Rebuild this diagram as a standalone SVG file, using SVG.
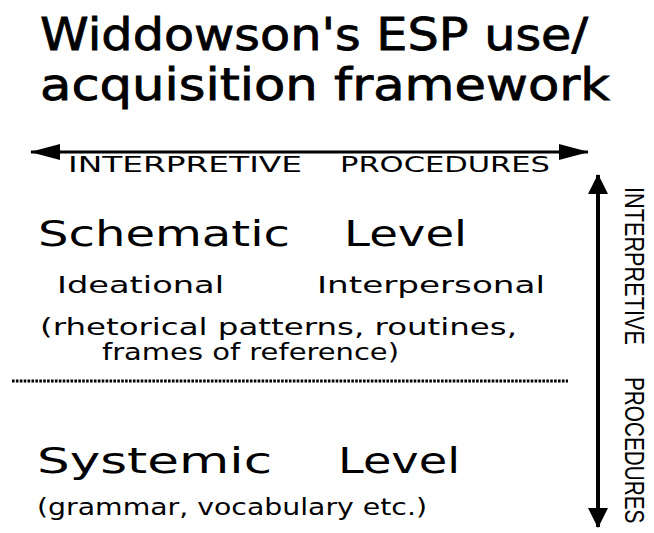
<svg xmlns="http://www.w3.org/2000/svg" width="654" height="533" viewBox="0 0 654 533">
  <defs>
    <style>
      text { font-family: "DejaVu Sans", "Liberation Sans", sans-serif; fill: #000; }
      .title { font-size: 44px; stroke: #000; stroke-width: 0.8; }
      .level { font-size: 36px; }
      .sub { font-size: 23px; }
      .proc { font-size: 21px; }
      .vproc { font-family: "Liberation Sans", "DejaVu Sans", sans-serif; font-size: 27px; }
      .axis-h { stroke: #000; stroke-width: 3; fill: none; }
      .axis-v { stroke: #000; stroke-width: 4; fill: none; }
      .divider { stroke: #000; stroke-width: 3; stroke-dasharray: 2.6 1.3; fill: none; }
    </style>
    <!-- long, narrow heads for the horizontal axis -->
    <marker id="head-h" viewBox="0 0 30 16" refX="29" refY="8" markerWidth="30" markerHeight="16" markerUnits="userSpaceOnUse" orient="auto-start-reverse">
      <path d="M0,0 L30,8 L0,16 Z" fill="#000"/>
    </marker>
    <!-- broader heads for the vertical axis -->
    <marker id="head-v" viewBox="0 0 20 20" refX="19" refY="10" markerWidth="20" markerHeight="20" markerUnits="userSpaceOnUse" orient="auto-start-reverse">
      <path d="M0,0 L20,10 L0,20 Z" fill="#000"/>
    </marker>
  </defs>

  <rect width="654" height="533" fill="#fff"/>

  <g id="title">
    <text class="title" x="40" y="50" textLength="548" lengthAdjust="spacingAndGlyphs">Widdowson's ESP use/</text>
    <text class="title" x="40" y="100" textLength="570" lengthAdjust="spacingAndGlyphs">acquisition framework</text>
  </g>

  <g id="connectors">
    <line class="axis-h" x1="31" y1="152" x2="588" y2="152" marker-start="url(#head-h)" marker-end="url(#head-h)"/>
    <line class="axis-v" x1="598" y1="175" x2="598" y2="527" marker-start="url(#head-v)" marker-end="url(#head-v)"/>
    <line class="divider" x1="12" y1="381" x2="568" y2="381"/>
  </g>

  <g id="horizontal-label">
    <text class="proc" x="68" y="172" textLength="234" lengthAdjust="spacingAndGlyphs">INTERPRETIVE</text>
    <text class="proc" x="340" y="172" textLength="210" lengthAdjust="spacingAndGlyphs">PROCEDURES</text>
  </g>

  <!-- condensed vertical caption, read top to bottom -->
  <g id="vertical-label">
    <text class="vproc" transform="translate(625,187) rotate(90) scale(0.77,1)" textLength="205" lengthAdjust="spacingAndGlyphs">INTERPRETIVE</text>
    <text class="vproc" transform="translate(625,377) rotate(90) scale(0.77,1)" textLength="190" lengthAdjust="spacingAndGlyphs">PROCEDURES</text>
  </g>

  <g id="schematic-level">
    <text class="level" x="38" y="246" textLength="252" lengthAdjust="spacingAndGlyphs">Schematic</text>
    <text class="level" x="344" y="246" textLength="123" lengthAdjust="spacingAndGlyphs">Level</text>
    <text class="sub" x="57" y="293" textLength="167" lengthAdjust="spacingAndGlyphs">Ideational</text>
    <text class="sub" x="317" y="293" textLength="228" lengthAdjust="spacingAndGlyphs">Interpersonal</text>
    <text class="sub" x="40" y="335" textLength="477" lengthAdjust="spacingAndGlyphs">(rhetorical patterns, routines,</text>
    <text class="sub" x="102" y="360" textLength="297" lengthAdjust="spacingAndGlyphs">frames of reference)</text>
  </g>

  <g id="systemic-level">
    <text class="level" x="37" y="473" textLength="235" lengthAdjust="spacingAndGlyphs">Systemic</text>
    <text class="level" x="338" y="473" textLength="122" lengthAdjust="spacingAndGlyphs">Level</text>
    <text class="sub" x="37" y="515" textLength="390" lengthAdjust="spacingAndGlyphs">(grammar, vocabulary etc.)</text>
  </g>
</svg>
